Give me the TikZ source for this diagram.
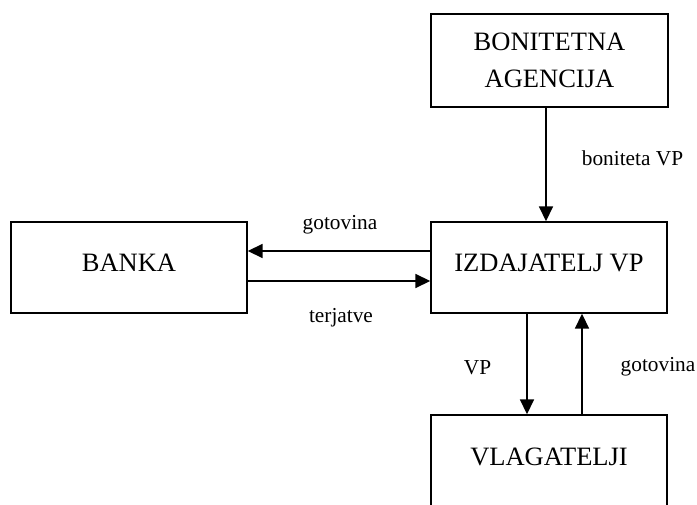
\documentclass[tikz,border=0pt]{standalone}
\usepackage{fontspec}
\setmainfont{Liberation Serif}
\usetikzlibrary{arrows.meta}
\begin{document}
\begin{tikzpicture}[x=1pt,y=-1pt,
  box/.style={draw,line width=1.4pt,minimum width=236pt,minimum height=91pt,inner sep=0pt,
    font=\fontsize{26.5}{37}\selectfont,align=center},
  onel/.style={text height=17.5pt,text depth=8.5pt},
  arr/.style={line width=1.7pt,-{Triangle[length=15pt,width=14pt]}},
  lbl/.style={font=\fontsize{21.3}{25}\selectfont,inner sep=0pt,anchor=base}]
\useasboundingbox (0,0) rectangle (697,505);
\clip (0,0) rectangle (697,505);
\node[box,minimum width=237pt,minimum height=93pt] (bon) at (549.5,60.5) {BONITETNA\\AGENCIJA};
\node[box,onel] (banka) at (129,267.5) {BANKA};
\node[box,onel] (izd) at (549,267.5) {IZDAJATELJ VP};
\node[box,onel] (vlag) at (549,460.5) {VLAGATELJI};
\draw[arr] ([xshift=-3.5pt]bon.south) -- ([xshift=-3.5pt]bon.south |- izd.north);
\draw[arr] ([yshift=16.5pt]izd.west) -- ([yshift=16.5pt]izd.west -| banka.east);
\draw[arr] ([yshift=-13.5pt]banka.east) -- ([yshift=-13.5pt]banka.east -| izd.west);
\draw[arr] ([xshift=-22pt]izd.south) -- ([xshift=-22pt]izd.south |- vlag.north);
\draw[arr] ([xshift=33pt]vlag.north) -- ([xshift=33pt]vlag.north |- izd.south);
\node[lbl] (l1) at (340,230) {gotovina};
\node[lbl] (l2) at (341,323) {terjatve};
\node[lbl] (l3) at (632.5,166) {boniteta VP};
\node[lbl] (l4) at (477.5,374) {VP};
\node[lbl] (l5) at (658,372) {gotovina};
\end{tikzpicture}
\end{document}
